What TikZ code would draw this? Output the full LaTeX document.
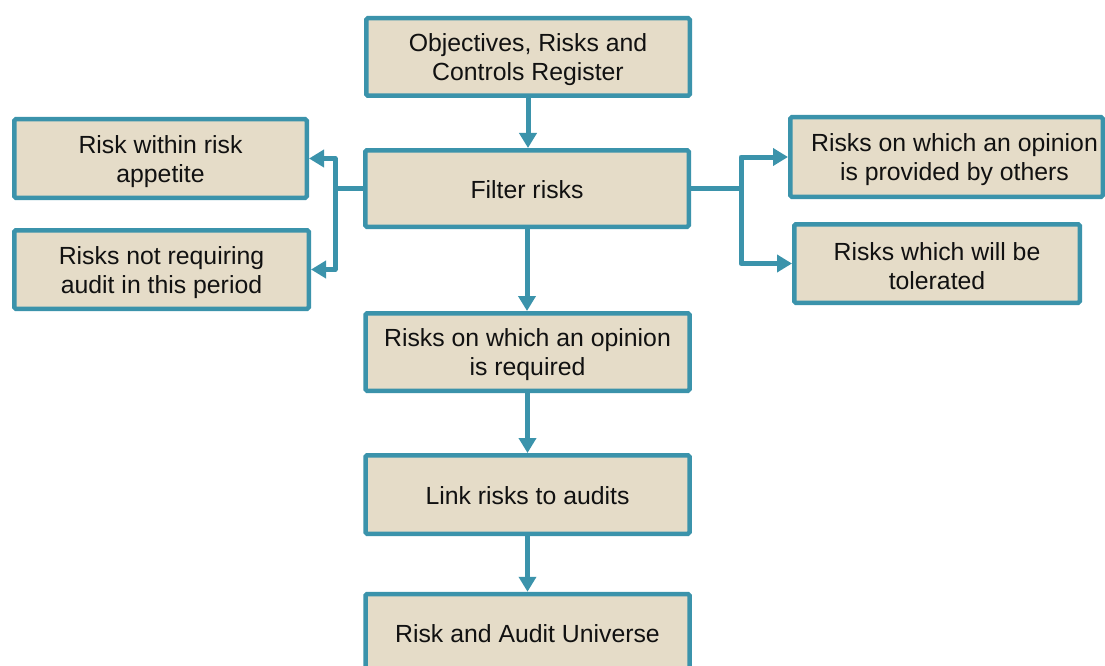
\documentclass[tikz,border=0pt]{standalone}
\usepackage{fontspec}
\setmainfont{Liberation Sans}
\usetikzlibrary{arrows.meta}
\definecolor{teal}{HTML}{3B93AB}
\definecolor{sand}{HTML}{E5DCC8}
\definecolor{ink}{HTML}{111111}
\begin{document}
\begin{tikzpicture}[x=1pt,y=-1pt,
  box/.style={draw=teal, fill=sand, line width=4.5pt, rounded corners=1.5pt,
    inner sep=0pt},
  txt/.style={align=center, text=ink, inner sep=0pt,
    font=\fontsize{24.8}{29}\selectfont},
  link/.style={draw=teal, line width=5pt},
  arr/.style={link, -{Triangle[length=15pt,width=17pt]}}]
\useasboundingbox (0,0) rectangle (1105,666);
\clip (0,0) rectangle (1105,666);

% main column
\node[box, minimum width=323.5pt, minimum height=77.5pt] (reg) at (528,57) {};
\node[txt] (reg-t) at ([yshift=-3pt]reg.center) {Objectives, Risks and\\Controls Register};
\node[box, minimum width=323.5pt, minimum height=76.5pt] (filter) at (527,188.5) {};
\node[txt] (filter-t) at ([yshift=-1pt]filter.center) {Filter risks};
\node[box, minimum width=324pt, minimum height=77.5pt] (req) at (527.5,352) {};
\node[txt] (req-t) at ([yshift=-3pt]req.center) {Risks on which an opinion\\is required};
\node[box, minimum width=324pt, minimum height=78.5pt] (map) at (527.5,494.5) {};
\node[txt] (map-t) at ([yshift=-1pt]map.center) {Link risks to audits};
\node[box, minimum width=324pt, minimum height=78pt] (univ) at (527.5,633) {};
\node[txt] (univ-t) at ([yshift=-1pt]univ.center) {Risk and Audit Universe};

% left branch
\node[box, minimum width=292.5pt, minimum height=78.5pt] (appetite) at (160.5,158.5) {};
\node[txt] (appetite-t) at ([yshift=-3pt]appetite.center) {Risk within risk\\appetite};
\node[box, minimum width=294.5pt, minimum height=78.5pt] (noaudit) at (161.5,269.5) {};
\node[txt] (noaudit-t) at ([yshift=-3pt]noaudit.center) {Risks not requiring\\audit in this period};

% right branch
\node[box, minimum width=312.5pt, minimum height=79.5pt] (others) at (946.5,157) {};
\node[txt] (others-t) at ([xshift=8pt,yshift=-3pt]others.center) {Risks on which an opinion\\is provided by others};
\node[box, minimum width=285.5pt, minimum height=78.5pt] (tolerate) at (937,263.5) {};
\node[txt] (tolerate-t) at ([yshift=-3pt]tolerate.center) {Risks which will be\\tolerated};

% vertical flow
\draw[arr] (reg.south) -- (reg.south |- filter.north);
\draw[arr] (filter.south) -- (filter.south |- req.north);
\draw[arr] (req.south) -- (req.south |- map.north);
\draw[arr] (map.south) -- (map.south |- univ.north);

% side branches
\draw[link] (filter.west) -- ++(-28,0) coordinate (lj);
\draw[arr, line join=round] (lj) |- (appetite.east);
\draw[arr, line join=round] (lj) |- (noaudit.east);
\draw[link] (filter.east) -- ++(50,0) coordinate (rj);
\draw[arr, line join=round] (rj) |- (others.west);
\draw[arr, line join=round] (rj) |- (tolerate.west);
\end{tikzpicture}
\end{document}
